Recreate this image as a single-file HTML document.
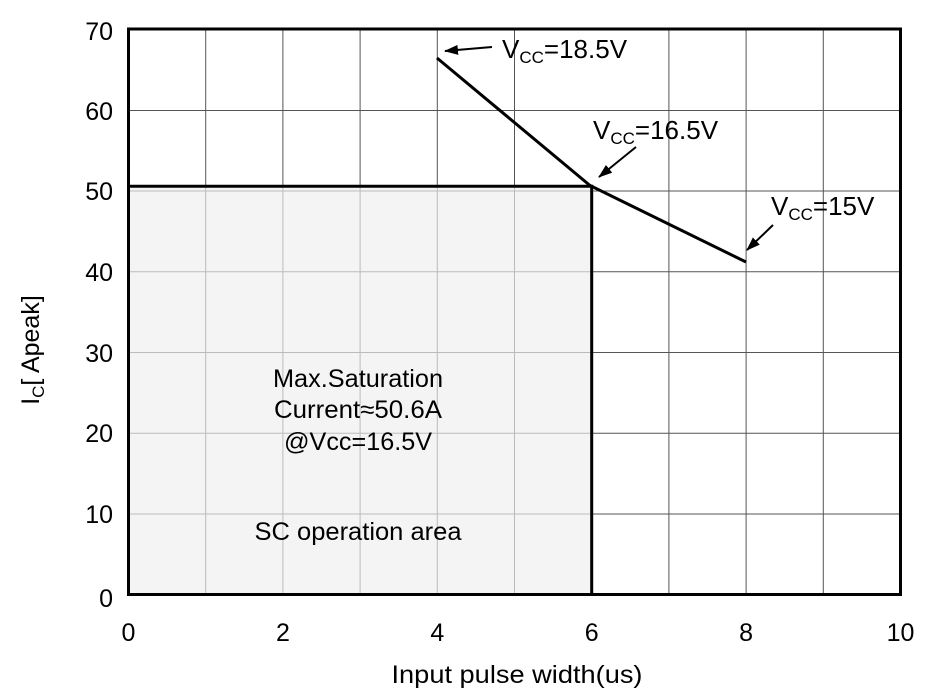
<!DOCTYPE html>
<html><head><meta charset="utf-8"><style>html,body{margin:0;padding:0;background:#fff}svg{display:block}text{font-family:"Liberation Sans",Arial,sans-serif;fill:#000}</style></head>
<body>
<svg width="948" height="700" viewBox="0 0 948 700" xmlns="http://www.w3.org/2000/svg">
<defs>
<marker id="ah2" viewBox="0 0 14 10" markerWidth="14" markerHeight="10" refX="13" refY="5" orient="auto" markerUnits="userSpaceOnUse"><path d="M0,0 L14,5 L0,10 Z" fill="#000"/></marker></defs>
<rect x="128.5" y="186.2" width="463.2" height="408.3" fill="#f4f4f4"/>
<g stroke="#555" stroke-width="1">
<line x1="205.7" y1="29" x2="205.7" y2="186"/><line x1="282.9" y1="29" x2="282.9" y2="186"/><line x1="360.1" y1="29" x2="360.1" y2="186"/><line x1="437.3" y1="29" x2="437.3" y2="186"/><line x1="514.5" y1="29" x2="514.5" y2="186"/>
<line x1="668.9" y1="29" x2="668.9" y2="594"/><line x1="746.1" y1="29" x2="746.1" y2="594"/><line x1="823.3" y1="29" x2="823.3" y2="594"/>
<line x1="128" y1="110.5" x2="900" y2="110.5"/>
<line x1="592" y1="191" x2="900" y2="191"/><line x1="592" y1="271.8" x2="900" y2="271.8"/><line x1="592" y1="352.5" x2="900" y2="352.5"/><line x1="592" y1="433.2" x2="900" y2="433.2"/><line x1="592" y1="514" x2="900" y2="514"/>
</g>
<g stroke="#bbb" stroke-width="1">
<line x1="205.7" y1="186" x2="205.7" y2="594"/><line x1="282.9" y1="186" x2="282.9" y2="594"/><line x1="360.1" y1="186" x2="360.1" y2="594"/><line x1="437.3" y1="186" x2="437.3" y2="594"/><line x1="514.5" y1="186" x2="514.5" y2="594"/>
<line x1="128" y1="191" x2="591" y2="191"/><line x1="128" y1="271.8" x2="591" y2="271.8"/><line x1="128" y1="352.5" x2="591" y2="352.5"/><line x1="128" y1="433.2" x2="591" y2="433.2"/><line x1="128" y1="514" x2="591" y2="514"/>
</g>
<rect x="128.5" y="29" width="772" height="565.5" fill="none" stroke="#000" stroke-width="3"/>
<polyline points="128.5,186.2 591.7,186.2 591.7,594.5" fill="none" stroke="#000" stroke-width="3"/>
<polyline points="437,58 590,185.5 746,262" fill="none" stroke="#000" stroke-width="3"/>
<g stroke="#000" stroke-width="2">
<line x1="492" y1="47" x2="445" y2="51" marker-end="url(#ah2)"/>
<line x1="636" y1="147" x2="599" y2="177" marker-end="url(#ah2)"/>
<line x1="773" y1="225" x2="747" y2="250" marker-end="url(#ah2)"/>
</g>
<g font-size="26">
<text x="502" y="58">V<tspan font-size="17" dy="5">CC</tspan><tspan dy="-5">=18.5V</tspan></text>
<text x="593" y="139">V<tspan font-size="17" dy="5">CC</tspan><tspan dy="-5">=16.5V</tspan></text>
<text x="771" y="215">V<tspan font-size="17" dy="5">CC</tspan><tspan dy="-5">=15V</tspan></text>
</g>
<g font-size="25" text-anchor="middle">
<text x="358" y="387" textLength="170" lengthAdjust="spacingAndGlyphs">Max.Saturation</text>
<text x="358" y="418" textLength="168" lengthAdjust="spacingAndGlyphs">Current≈50.6A</text>
<text x="358" y="450" textLength="148" lengthAdjust="spacingAndGlyphs">@Vcc=16.5V</text>
<text x="358" y="540" textLength="207" lengthAdjust="spacingAndGlyphs">SC operation area</text>
</g>
<g font-size="25" text-anchor="end">
<text x="113" y="40">70</text><text x="113" y="120">60</text><text x="113" y="200">50</text><text x="113" y="281">40</text><text x="113" y="362">30</text><text x="113" y="442">20</text><text x="113" y="523">10</text><text x="113" y="607">0</text>
</g>
<g font-size="25" text-anchor="middle">
<text x="128.5" y="641">0</text><text x="282.9" y="641">2</text><text x="437.3" y="641">4</text><text x="591.7" y="641">6</text><text x="746.1" y="641">8</text><text x="900.5" y="641">10</text>
<text x="517" y="683" textLength="251" lengthAdjust="spacingAndGlyphs">Input pulse width(us)</text>
</g>
<text transform="translate(39,350) rotate(-90)" font-size="25" text-anchor="middle">I<tspan font-size="17" dy="5">C</tspan><tspan dy="-5">[ Apeak]</tspan></text>
</svg>
</body></html>
